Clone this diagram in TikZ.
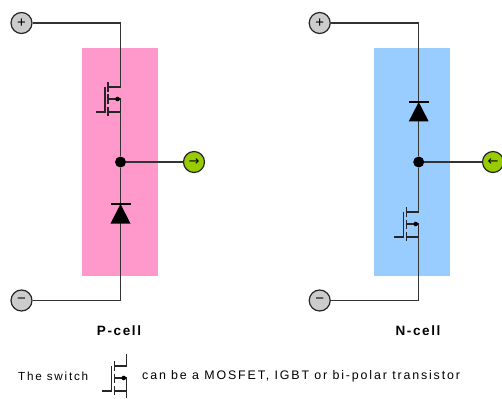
\documentclass[tikz,border=0pt]{standalone}
\usepackage{fontspec}
\setmainfont{Liberation Sans}
\newfontfamily\symfont{DejaVu Sans}
\newfontfamily\legendfont[LetterSpace=15]{Liberation Sans}
\newfontfamily\cellfont[LetterSpace=12]{Liberation Sans Bold}
\definecolor{pinkcell}{HTML}{FF99CC}
\definecolor{bluecell}{HTML}{99CCFF}
\definecolor{termgrey}{HTML}{CCCCCC}
\definecolor{termgreen}{HTML}{99CC00}
\definecolor{wirecol}{HTML}{333333}
\tikzset{
  cellbox/.style={fill=#1,draw=none},
  wire/.style={draw=wirecol,line width=1.5pt},
  thin wire/.style={draw=black!85,line width=1.1pt},
  terminal/.style={circle,draw=black!85,line width=1.2pt,fill=#1,minimum size=21pt,inner sep=0pt,font=\fontsize{15}{15}\selectfont},
  junction/.style={circle,fill=black,minimum size=11pt,inner sep=0pt},
  swlabel/.style={font=\cellfont\fontsize{13.5}{14}\selectfont},
  legend/.style={font=\legendfont\fontsize{#1}{12}\selectfont,anchor=west,inner sep=0pt},
  diodeshape/.style={fill=black,draw=none},
}
\newcommand{\mosfetsym}[3]{%
  \begin{scope}[shift={(#1,#2)}]
    \coordinate (#3-d) at (0,0);
    \coordinate (#3-s) at (0,25);
    \draw[thin wire] (-12.5,0) -- (0,0);
    \draw[thin wire] (-12.5,12) -- (0,12) -- (0,25) -- (-12.5,25);
    \draw[thin wire] (-12.5,-5) -- (-12.5,5);
    \draw[thin wire] (-12.5,7.5) -- (-12.5,17);
    \draw[thin wire] (-12.5,20) -- (-12.5,29);
    \draw[thin wire] (-15.5,0) -- (-15.5,25) -- (-25,25);
    \fill[black] (-3,12) circle (2.3pt);
  \end{scope}}
\begin{document}
\begin{tikzpicture}[x=1pt,y=-1pt]
\useasboundingbox (0,0) rectangle (502,398);
% cells
\fill[cellbox=pinkcell] (82,48) rectangle (158,276);
\fill[cellbox=bluecell] (374,48) rectangle (450,276);
% P-cell nodes
\node[terminal=termgrey] (pplus) at (21.5,23) {+};
\node[terminal=termgrey] (pminus) at (21.5,300.5) {−};
\node[terminal=termgreen,font=\symfont\fontsize{13}{13}\selectfont] (pout) at (194,162) {→};
\node[junction] (pj) at (120.5,162) {};
\coordinate (ptop) at (120.5,23);
\coordinate (pbot) at (120.5,300.5);
\mosfetsym{120.5}{87}{pm}
\draw[wire] (pplus) -- (ptop) -- (pm-d);
\draw[wire] (pm-s) -- (pj);
\draw[wire] (pj) -- (pout);
\draw[wire] (pj) -- (pbot) -- (pminus);
\fill[diodeshape] (120.5,204) -- (130.5,223.5) -- (110.5,223.5) -- cycle;
\draw[line width=1.2pt,black] (110.5,204) -- (130.5,204);
% N-cell nodes
\node[terminal=termgrey] (nplus) at (319.7,23) {+};
\node[terminal=termgrey] (nminus) at (319.7,300.5) {−};
\node[terminal=termgreen,font=\symfont\fontsize{13}{13}\selectfont] (nout) at (493,162) {←};
\node[junction] (nj) at (418.7,162) {};
\coordinate (ntop) at (418.7,23);
\coordinate (nbot) at (418.7,300.5);
\mosfetsym{418.7}{212}{nm}
\draw[wire] (nplus) -- (ntop) -- (nj);
\draw[wire] (nj) -- (nout);
\draw[wire] (nj) -- (nm-d);
\draw[wire] (nm-s) -- (nbot) -- (nminus);
\fill[diodeshape] (418.7,102) -- (428.7,121.5) -- (408.7,121.5) -- cycle;
\draw[line width=1.2pt,black] (408.7,102) -- (428.7,102);
% Labels
\node[swlabel] (plabel) at (119,331) {P-cell};
\node[swlabel] (nlabel) at (418,331) {N-cell};
% Legend
\node[legend=11.7] (l1) at (18,376) {The switch};
\mosfetsym{126.7}{366}{lm}
\coordinate (lt) at (126.7,354);
\coordinate (lb) at (126.7,398);
\draw[thin wire] (lt) -- (lm-d);
\draw[thin wire] (lm-s) -- (lb);
\node[legend=12.4] (l2) at (142,376) {can be a MOSFET, IGBT or bi-polar transistor};
\end{tikzpicture}
\end{document}
